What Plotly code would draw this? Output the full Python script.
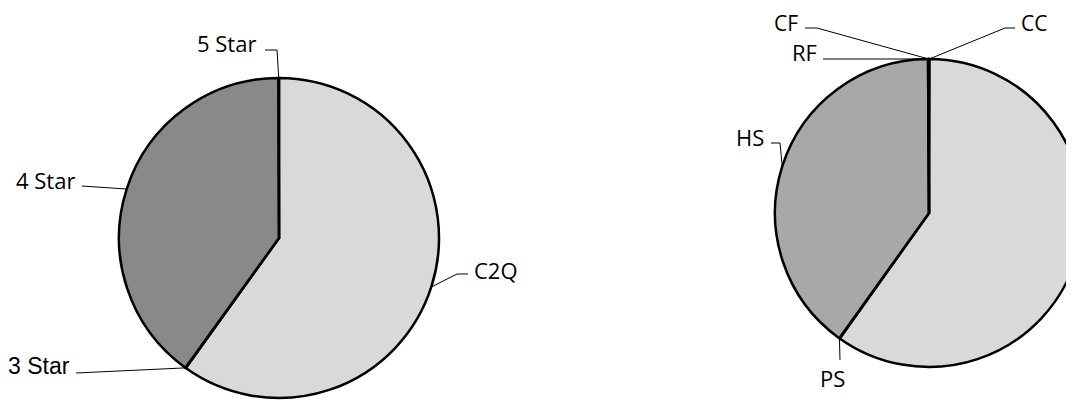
import numpy as np
import plotly.graph_objects as go

# the page body adds an 8px margin, so every target pixel is shifted back by OFF
OFF = 8
W, H = 1090, 400

# left pie
left_labels = ["C2Q", "3 Star", "4 Star", "5 Star"]
left_values = [59.9, 0.05, 40.0, 0.05]
left_colors = ["#d9d9d9", "#bfbfbf", "#898989", "#595959"]

# right pie
right_labels = ["CC", "", "PS", "HS", "RF", "CF"]
right_values = [0.05, 59.8, 0.05, 40.0, 0.05, 0.05]
right_colors = ["#bfbfbf", "#d9d9d9", "#7f7f7f", "#a8a8a8", "#8c8c8c", "#666666"]

# pie geometry in screen pixels (centre x, centre y, radius)
LEFT = (279, 238, 160)
RIGHT = (929, 213, 154)


def px(x, y):
    return (x - OFF) / W, 1 - (y - OFF) / H


def domain(c):
    cx, cy, r = c
    x0, y0 = px(cx - r, cy + r)
    x1, y1 = px(cx + r, cy - r)
    return dict(x=[x0, x1], y=[y0, y1])


def edge_point(c, values, i):
    cx, cy, r = c
    v = np.array(values, dtype=float)
    start = v[:i].sum() / v.sum() * 360
    mid = np.radians(start + v[i] / v.sum() * 180)
    return cx + r * np.sin(mid), cy - r * np.cos(mid)


fig = go.Figure()
for lab, val, col, c in [(left_labels, left_values, left_colors, LEFT),
                         (right_labels, right_values, right_colors, RIGHT)]:
    fig.add_trace(go.Pie(labels=lab, values=val, sort=False, direction="clockwise",
                         rotation=0, textinfo="none", domain=domain(c),
                         marker=dict(colors=col, line=dict(color="black", width=2.5)),
                         hoverinfo="label+percent"))

# label: anchor, text x, text y, font size, leader points (label side first)
left_lbl = {
    "5 Star": ("right", 258, 43, 22, [(265, 50), (277, 50)]),
    "4 Star": ("right", 77, 180, 22, [(82, 186)]),
    "C2Q": ("left", 472, 270, 22, [(468, 274), (457, 274)]),
    "3 Star": ("right", 72, 366, 23, [(76, 373)]),
}
right_lbl = {
    "CF": ("right", 800, 23, 21, [(805, 28), (817, 28)]),
    "RF": ("right", 819, 52, 22, [(823, 59)]),
    "CC": ("left", 1019, 23, 21, [(1015, 28), (1005, 28)]),
    "HS": ("right", 766, 137, 22, [(771, 143), (780, 143)]),
    "PS": ("center", 832, 378, 22, [(840, 360)]),
}

for lbls, labels, values, c in [(left_lbl, left_labels, left_values, LEFT),
                                (right_lbl, right_labels, right_values, RIGHT)]:
    for name, (anchor, tx, ty, size, pts) in lbls.items():
        family = "Liberation Sans, Arial" if name == "3 Star" else "Open Sans"
        ax, ay = px(tx, ty)
        fig.add_annotation(x=ax, y=ay, xref="paper", yref="paper", text=name,
                           showarrow=False, xanchor=anchor, yanchor="middle",
                           font=dict(family=family, size=size, color="black"))
        ex, ey = edge_point(c, values, labels.index(name))
        path_pts = [px(x, y) for x, y in pts] + [px(ex, ey)]
        path = "M " + " L ".join(f"{x:.5f},{y:.5f}" for x, y in path_pts)
        fig.add_shape(type="path", path=path, xref="paper", yref="paper",
                      line=dict(color="black", width=1))

fig.update_layout(width=W, height=H, margin=dict(l=0, r=0, t=0, b=0),
                  showlegend=False, paper_bgcolor="white", plot_bgcolor="white")
fig.write_html("out.html")
